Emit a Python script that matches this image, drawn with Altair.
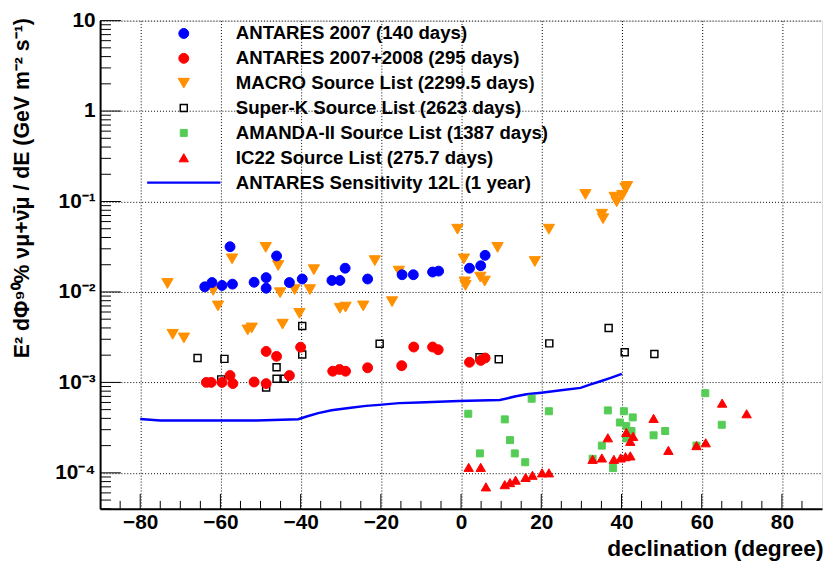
import altair as alt
import pandas as pd

FONT = "Liberation Sans"

LABELS = [
    "ANTARES 2007 (140 days)",
    "ANTARES 2007+2008 (295 days)",
    "MACRO Source List (2299.5 days)",
    "Super-K Source List (2623 days)",
    "AMANDA-II Source List (1387 days)",
    "IC22 Source List (275.7 days)",
    "ANTARES Sensitivity 12L (1 year)",
]
FILLS = ["#0000ff", "#ff0000", "#ff9000", "transparent", "#55cc55", "#ff0000", "#0000ff"]
STROKES = ["#0000ff", "#ff0000", "#ff9000", "#000000", "#55cc55", "#ff0000", "#0000ff"]
SHAPES = ["circle", "circle", "triangle-down", "square", "square", "triangle-up", "stroke"]
SIZES = [100, 100, 130, 50, 50, 90, 5476]
WIDTHS = [1, 1, 1, 1.5, 1, 1, 2.5]

A07_DEC = [-63.9, -62.1, -59.6, -57.6, -57.0, -51.6, -48.6, -48.6, -46.0, -42.8, -39.6,
           -32.2, -30.2, -28.9, -23.3, -14.7, -11.9, -7.1, -5.6, 2.1, 4.9, 6.0]
A07_FLUX = [0.0114, 0.0127, 0.0118, 0.0316, 0.0122, 0.0128, 0.0144, 0.0110, 0.0250, 0.0127, 0.0139,
            0.0134, 0.0134, 0.0183, 0.0139, 0.0155, 0.0155, 0.0166, 0.0170, 0.0183, 0.0195, 0.0254]

A0708_DEC = [-63.5, -62.3, -59.6, -57.6, -56.9, -51.6, -48.6, -48.6, -46.0, -42.8, -40.0,
             -32.0, -30.3, -28.8, -23.3, -14.8, -11.8, -7.1, -5.7, 2.1, 4.9, 6.0]
A0708_FLUX = [0.00100, 0.00100, 0.00100, 0.00119, 0.00097, 0.00101, 0.00220, 0.00097, 0.00194, 0.00119, 0.00245,
              0.00133, 0.00139, 0.00133, 0.00145, 0.00153, 0.00246, 0.00246, 0.00230, 0.00167, 0.00175, 0.00186]

MACRO_DEC = [-73.2, -71.9, -69.1, -61.8, -60.6, -57.1, -53.2, -52.2, -48.7, -45.6, -45.1, -44.5, -41.5,
             -40.3, -37.7, -36.7, -30.2, -28.8, -24.4, -21.5, -17.2, -15.5, -0.9, 0.7, 0.9, 1.1, 4.8,
             5.9, 9.1, 18.4, 21.9, 31.0, 35.1, 35.4, 38.3, 38.8, 40.2, 41.0, 41.4]
MACRO_FLUX = [0.0124, 0.0034, 0.0031, 0.0104, 0.0070, 0.0232, 0.0038, 0.0040, 0.0311, 0.0196, 0.0098, 0.0044, 0.0106,
              0.0058, 0.0106, 0.0176, 0.0066, 0.0068, 0.0070, 0.0222, 0.0078, 0.0170, 0.0494, 0.0232, 0.0129, 0.0118, 0.0146,
              0.0132, 0.0311, 0.0217, 0.0494, 0.1197, 0.0723, 0.0645, 0.1117, 0.0993, 0.117, 0.141, 0.147]

SK_DEC = [-65.7, -59.0, -59.8, -48.6, -46.0, -46.0, -44.0, -39.6, -39.6, -20.3, 4.6, 9.4, 22.0, 36.8, 40.8, 48.2]
SK_FLUX = [0.00186, 0.00182, 0.00108, 0.00088, 0.00147, 0.00110, 0.00110, 0.0042, 0.00204, 0.00267,
           0.0019, 0.0018, 0.0027, 0.0040, 0.00215, 0.00206]

AM_DEC = [1.8, 4.7, 10.9, 12.2, 13.4, 16.0, 17.6, 21.9, 32.8, 35.1, 36.6, 37.9, 39.6, 40.6, 41.2, 41.2,
          42.5, 42.8, 48.0, 50.9, 58.7, 60.9, 65.0]
AM_FLUX = [0.00045, 0.000164, 0.00039, 0.00023, 0.000164, 0.000131, 0.00066, 0.00048, 0.000143, 0.0002,
           0.00049, 0.000113, 0.00036, 0.00048, 0.00033, 0.00024, 0.00029, 0.00041, 0.00026, 0.00029,
           0.0002, 0.00076, 0.00034]

IC_DEC = [1.9, 4.9, 6.2, 10.9, 12.2, 13.6, 16.1, 17.8, 20.2, 21.9, 32.8, 35.1, 36.6, 38.1, 39.8, 41.0,
          41.2, 42.2, 42.2, 42.9, 48.0, 51.7, 58.7, 61.0, 65.1, 71.2]
IC_FLUX = [0.000115, 0.000115, 0.000070, 0.000074, 0.000078, 0.000083, 0.000089, 0.000094, 0.000100, 0.000100,
           0.000141, 0.000146, 0.000244, 0.000141, 0.000146, 0.000151, 0.00028, 0.000154, 0.000223, 0.000253,
           0.0004, 0.000177, 0.0002, 0.000215, 0.00059, 0.00045]

SENS_DEC = [-80, -75, -51, -40.6, -38.5, -35.6, -32.3, -30.4, -27, -23.7, -20.4, -15.5, -10.5, -0.6,
            9.7, 13.4, 16.3, 20, 24.9, 29.8, 32.3, 34.8, 37.3, 40.1]
SENS_FLUX = [3.94e-4, 3.78e-4, 3.8e-4, 3.92e-4, 4.2e-4, 4.57e-4, 4.93e-4, 5.06e-4, 5.28e-4, 5.5e-4, 5.64e-4,
             5.9e-4, 6.0e-4, 6.24e-4, 6.4e-4, 6.97e-4, 7.4e-4, 7.7e-4, 8.2e-4, 8.7e-4, 9.5e-4, 1.03e-3,
             1.12e-3, 1.24e-3]

X_DOMAIN = [-90, 90]
Y_DOMAIN = [4e-5, 10]
X_MAJOR = [-80, -60, -40, -20, 0, 20, 40, 60, 80]
X_MINOR = [v for v in range(-85, 90, 5) if v % 20 != 0]
Y_MAJOR = [1e-4, 1e-3, 1e-2, 1e-1, 1, 10]
Y_MAJOR_LABELS = ["10⁻⁴", "10⁻³", "10⁻²", "10⁻¹", "1", "10"]
Y_EXP = [-4, -3, -2, -1, 0, 1]
Y_MINOR = [m * 10.0 ** e for e in range(-5, 1) for m in range(2, 10) if Y_DOMAIN[0] <= m * 10.0 ** e <= Y_DOMAIN[1]]

W, H = 729, 493
Y_TITLE = "E² dΦ⁹⁰% νμ+ν̄μ / dE (GeV m⁻² s⁻¹)"
X_TITLE = "declination (degree)"

# point data, drawn in this order (later on top)
order = [(3, SK_DEC, SK_FLUX), (4, AM_DEC, AM_FLUX), (2, MACRO_DEC, MACRO_FLUX),
         (0, A07_DEC, A07_FLUX), (1, A0708_DEC, A0708_FLUX), (5, IC_DEC, IC_FLUX)]
rows = []
for idx, decs, fluxes in order:
    for d, f in zip(decs, fluxes):
        rows.append({"series": LABELS[idx], "dec": d, "flux": f})
pts = pd.DataFrame(rows)
sens = pd.DataFrame({"dec": SENS_DEC, "flux": SENS_FLUX})

xscale = alt.Scale(domain=X_DOMAIN, nice=False, zero=False)
yscale = alt.Scale(type="log", domain=Y_DOMAIN, nice=False)

label_expr = ""
for e, lab in zip(Y_EXP, Y_MAJOR_LABELS):
    label_expr += f"round(log(datum.value)/LN10) == {e} ? '{lab}' : "
label_expr += "''"

x_axis = alt.Axis(values=X_MAJOR, grid=True, gridDash=[1, 2], gridColor="#000000", gridWidth=1,
                  ticks=False, domain=True, domainColor="#000000", domainWidth=2,
                  labelFont=FONT, labelFontWeight="bold", labelFontSize=21, labelColor="#000000",
                  labelPadding=3, labelBaseline="top",
                  title=X_TITLE, titleFont=FONT, titleFontWeight="bold",
                  titleFontSize=23, titleColor="#000000", titleAnchor="end", titleAlign="right",
                  titleX=W + 1, titleY=47, titleBaseline="alphabetic")
y_axis = alt.Axis(values=Y_MAJOR, grid=True, gridDash=[1, 2], gridColor="#000000", gridWidth=1,
                  ticks=False, domain=True, domainColor="#000000", domainWidth=2,
                  labelExpr=label_expr,
                  labelFont=FONT, labelFontWeight="bold", labelFontSize=21, labelColor="#000000",
                  labelPadding=5,
                  title=Y_TITLE, titleFont=FONT, titleFontWeight="bold",
                  titleFontSize=21.5, titleColor="#000000", titleAnchor="end", titleAlign="right",
                  titleAngle=270, titleX=-72, titleY=-3, titleBaseline="alphabetic")

legend = alt.Legend(title=None, orient="none", legendX=46, legendY=3, padding=0,
                    labelFont=FONT, labelFontWeight="bold", labelFontSize=18.8, labelColor="#000000",
                    labelOffset=14, labelLimit=0, clipHeight=20, rowPadding=5.1, symbolOpacity=1)

X = alt.X("dec:Q", scale=xscale, axis=x_axis, title=X_TITLE)
Y = alt.Y("flux:Q", scale=yscale, axis=y_axis, title=Y_TITLE)

line = alt.Chart(sens).mark_line(color="#0000ff", strokeWidth=2.5, clip=True).encode(x=X, y=Y)

points = alt.Chart(pts).mark_point(filled=True, opacity=1).encode(
    x=X,
    y=Y,
    fill=alt.Fill("series:N", scale=alt.Scale(domain=LABELS, range=FILLS), legend=legend),
    stroke=alt.Stroke("series:N", scale=alt.Scale(domain=LABELS, range=STROKES), legend=legend),
    shape=alt.Shape("series:N", scale=alt.Scale(domain=LABELS, range=SHAPES), legend=legend),
    size=alt.Size("series:N", scale=alt.Scale(type="ordinal", domain=LABELS, range=SIZES), legend=legend),
    strokeWidth=alt.StrokeWidth("series:N", scale=alt.Scale(type="ordinal", domain=LABELS, range=WIDTHS), legend=legend),
)

ymaj = pd.DataFrame({"flux": Y_MAJOR})
ymin = pd.DataFrame({"flux": Y_MINOR})
xmaj = pd.DataFrame({"dec": X_MAJOR})
xmin = pd.DataFrame({"dec": X_MINOR})

ytick_major = alt.Chart(ymaj).mark_rule(color="#000000", strokeWidth=1).encode(
    y=Y, x=alt.value(0), x2=alt.value(21))
ytick_minor = alt.Chart(ymin).mark_rule(color="#000000", strokeWidth=1).encode(
    y=Y, x=alt.value(0), x2=alt.value(11))
xtick_major = alt.Chart(xmaj).mark_rule(color="#000000", strokeWidth=1).encode(
    x=X, y=alt.value(H), y2=alt.value(H - 15))
xtick_minor = alt.Chart(xmin).mark_rule(color="#000000", strokeWidth=1).encode(
    x=X, y=alt.value(H), y2=alt.value(H - 8))

chart = alt.layer(line, ytick_major, ytick_minor, xtick_major, xtick_minor, points).properties(
    width=W, height=H,
    padding={"left": 93, "top": 10, "right": 2, "bottom": 56},
    autosize=alt.AutoSizeParams(type="none"),
).configure_view(stroke="#000000", strokeWidth=1).configure(background="white")

chart.save("out.html", embed_options={"renderer": "svg", "actions": False})
